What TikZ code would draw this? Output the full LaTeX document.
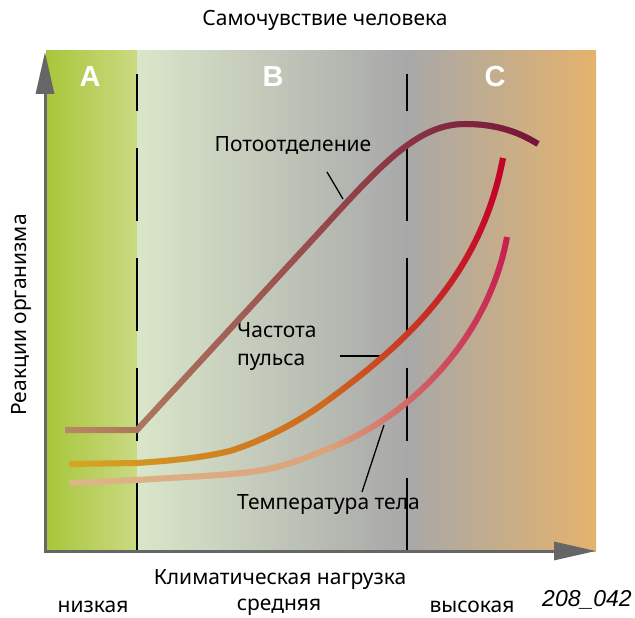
\documentclass[tikz,border=0pt]{standalone}
\usepackage{fontspec}
\setmainfont{Noto Sans}
\newfontfamily\labelfont{Liberation Sans}
\usetikzlibrary{arrows.meta,fadings}

\definecolor{zoneAl}{RGB}{168,198,58}
\definecolor{zoneAr}{RGB}{202,218,130}
\definecolor{zoneBl}{RGB}{218,230,202}
\definecolor{zoneBr}{RGB}{168,168,168}
\definecolor{zoneCr}{RGB}{228,178,108}
\definecolor{axisgray}{RGB}{102,102,102}

\definecolor{sweatL}{RGB}{182,138,102}
\definecolor{sweatM}{RGB}{150,72,76}
\definecolor{sweatR}{RGB}{118,20,58}
\definecolor{pulseL}{RGB}{214,168,36}
\definecolor{pulseM}{RGB}{206,104,32}
\definecolor{pulseR}{RGB}{196,0,44}
\definecolor{tempL}{RGB}{222,182,138}
\definecolor{tempM}{RGB}{220,162,122}
\definecolor{tempR}{RGB}{198,30,82}

% opacity ramps, left to right
\tikzfading[name=fadeup, left color=transparent!100, right color=transparent!0]
\tikzfading[name=fadelate, left color=transparent!100, middle color=transparent!75, right color=transparent!0]

% curve pieces, each gets its own colour run
\newcommand{\sweatA}{(65,430) -- (137,430) -- (325,226)}
\newcommand{\sweatB}{(325,226) .. controls (385,160) and (420,124) .. (465,124) .. controls (500,124) and (522,134) .. (538,144)}
\newcommand{\pulseA}{(69,464) -- (137,463) .. controls (180,460) and (205,457) .. (230,451) .. controls (265,440) and (300,421) .. (327,401)}
\newcommand{\pulseB}{(327,401) .. controls (400,347) and (480,280) .. (503,158)}
\newcommand{\tempA}{(70,483) -- (137,480) .. controls (200,476) and (235,475) .. (263,470) .. controls (290,465) and (310,456) .. (330,448)}
\newcommand{\tempB}{(330,448) .. controls (420,412) and (490,330) .. (507,237)}

\begin{document}
\begin{tikzpicture}[x=1pt,y=-1pt,
	every node/.style={font=\fontsize{21}{28}\selectfont},
	zone/.style={text=white,font=\labelfont\bfseries\fontsize{29}{30}\selectfont},
	curve/.style={line width=6pt},
	leader/.style={line width=1.3pt}]
	\useasboundingbox (0,0) rectangle (635,618);

	% background zones
	\shade[left color=zoneAl, right color=zoneAr] (46,51) rectangle (137,551);
	\shade[left color=zoneBl, right color=zoneBr] (137,51) rectangle (407,551);
	\shade[left color=zoneBr, right color=zoneCr] (407,51) rectangle (596,551);

	\node[zone] (zA) at (90,77) {A};
	\node[zone] (zB) at (273,77) {B};
	\node[zone] (zC) at (495,77) {C};

	% zone borders
	\foreach \x in {137,407}
		\draw[line width=1.6pt, dash pattern=on 73pt off 37pt] (\x,551) -- (\x,74);

	% labels and leaders
	\node (title) at (325,20) {Самочувствие человека};
	\node (sweatlbl) at (293,145) {Потоотделение};
	\node[anchor=west, align=left, inner sep=0pt] (pulselbl) at (237,347) {Частота\\пульса};
	\node[anchor=west, inner sep=0pt] (templbl) at (237,505) {Температура тела};
	\coordinate (sweatP) at (327,172);
	\coordinate (sweatQ) at (343,199);
	\coordinate (pulseP) at (340,356);
	\coordinate (pulseQ) at (381,356);
	\coordinate (tempP) at (362,492);
	\coordinate (tempQ) at (384,425);
	\draw[leader] (sweatP) -- (sweatQ);
	\draw[leader] (pulseP) -- (pulseQ);
	\draw[leader] (tempP) -- (tempQ);

	% curves
	\draw[curve, sweatL] \sweatA;
	\draw[curve, sweatM, path fading=fadeup] \sweatA;
	\draw[curve, sweatM] \sweatB;
	\draw[curve, sweatR, path fading=fadeup] \sweatB;

	\draw[curve, pulseL] \pulseA;
	\draw[curve, pulseM, path fading=fadeup] \pulseA;
	\draw[curve, pulseM] \pulseB;
	\draw[curve, pulseR, path fading=fadelate] \pulseB;

	\draw[curve, tempL] \tempA;
	\draw[curve, tempM, path fading=fadeup] \tempA;
	\draw[curve, tempM] \tempB;
	\draw[curve, tempR, path fading=fadelate] \tempB;

	% axes
	\draw[line width=3pt, axisgray, -{Triangle[length=42pt,width=18pt]}] (45,552.5) -- (45,52);
	\draw[line width=3pt, axisgray, -{Triangle[length=42pt,width=18pt]}] (43.5,551) -- (596,551);

	\node[rotate=90] (ylbl) at (22,315) {Реакции организма};
	\node (xlbl) at (280,580) {Климатическая нагрузка};
	\node (low) at (93,607) {низкая};
	\node (mid) at (279,607) {средняя};
	\node (high) at (472,607) {высокая};
	\node[font=\labelfont\itshape\fontsize{23}{25}\selectfont] (fig) at (587,600) {208\_042};
\end{tikzpicture}
\end{document}
